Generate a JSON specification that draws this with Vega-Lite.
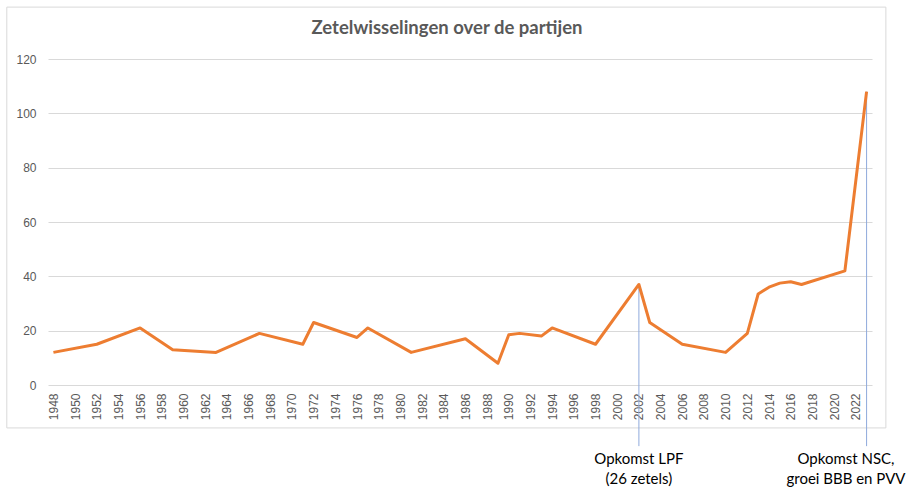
{
  "$schema": "https://vega.github.io/schema/vega-lite/v6.json",
  "width": 824,
  "height": 326,
  "autosize": "none",
  "padding": {"left": 48, "top": 59, "right": 37, "bottom": 103},
  "background": "white",
  "config": {
    "view": {"stroke": null},
    "font": "Lato",
    "axis": {
      "title": null,
      "ticks": false,
      "domain": false,
      "labelFontSize": 12,
      "labelColor": "#595959",
      "labelFont": "Liberation Sans",
      "labelOverlap": false
    },
    "axisX": {
      "labelAngle": -90,
      "labelPadding": 8,
      "grid": false,
      "labelOverlap": false,
      "labelFlush": false,
      "labelBound": false
    },
    "axisY": {
      "labelPadding": 12,
      "grid": true,
      "gridColor": "#d9d9d9",
      "gridWidth": 1
    }
  },
  "title": {
    "text": "Zetelwisselingen over de partijen",
    "fontSize": 18.5,
    "fontWeight": "bold",
    "font": "Lato",
    "color": "#595959",
    "anchor": "middle",
    "frame": "group",
    "dx": -13,
    "offset": -31
  },
  "datasets": {
    "seats": [
      {"year": 1948, "value": 12},
      {"year": 1952, "value": 15},
      {"year": 1956, "value": 21},
      {"year": 1959, "value": 13},
      {"year": 1963, "value": 12},
      {"year": 1967, "value": 19},
      {"year": 1971, "value": 15},
      {"year": 1972, "value": 23},
      {"year": 1976, "value": 17.5},
      {"year": 1977, "value": 21},
      {"year": 1981, "value": 12},
      {"year": 1986, "value": 17},
      {"year": 1989, "value": 8},
      {"year": 1990, "value": 18.5},
      {"year": 1991, "value": 19},
      {"year": 1993, "value": 18},
      {"year": 1994, "value": 21},
      {"year": 1998, "value": 15},
      {"year": 2002, "value": 37},
      {"year": 2003, "value": 23},
      {"year": 2006, "value": 15},
      {"year": 2010, "value": 12},
      {"year": 2012, "value": 19},
      {"year": 2013, "value": 33.5},
      {"year": 2014, "value": 36},
      {"year": 2015, "value": 37.5},
      {"year": 2016, "value": 38},
      {"year": 2017, "value": 37},
      {"year": 2021, "value": 42},
      {"year": 2023, "value": 108}
    ],
    "marks": [
      {"year": 2002, "top": 37, "bottom": -22.5, "labelYear": 2002, "label": ["Opkomst LPF", "(26 zetels)"]},
      {"year": 2023, "top": 108, "bottom": -22.5, "labelYear": 2021.1, "label": ["Opkomst NSC,", "groei BBB en PVV"]}
    ],
    "frame": [
      {"x1": 1943.7, "x2": 2024.78, "y1": 139.1, "y2": -15.8}
    ]
  },
  "layer": [
    {
      "data": {"name": "frame"},
      "mark": {"type": "rect", "fill": "transparent", "stroke": "#d9d9d9", "strokeWidth": 1},
      "encoding": {
        "x": {"field": "x1", "type": "quantitative"},
        "x2": {"field": "x2"},
        "y": {"field": "y1", "type": "quantitative"},
        "y2": {"field": "y2"}
      }
    },
    {
      "data": {"name": "marks"},
      "mark": {"type": "rule", "color": "#8faadc", "strokeWidth": 1},
      "encoding": {
        "x": {"field": "year", "type": "quantitative"},
        "y": {"field": "top", "type": "quantitative"},
        "y2": {"field": "bottom"}
      }
    },
    {
      "data": {"name": "seats"},
      "mark": {"type": "line", "color": "#ED7D31", "strokeWidth": 3, "strokeJoin": "round"},
      "encoding": {
        "x": {
          "field": "year",
          "type": "quantitative",
          "scale": {"domain": [1947.5, 2023.5], "nice": false, "zero": false},
          "axis": {
            "values": [1948,1950,1952,1954,1956,1958,1960,1962,1964,1966,1968,1970,1972,1974,1976,1978,1980,1982,1984,1986,1988,1990,1992,1994,1996,1998,2000,2002,2004,2006,2008,2010,2012,2014,2016,2018,2020,2022],
            "tickCount": 100,
            "format": "d",
            "labelOverlap": false,
            "labelAngle": -90
          }
        },
        "y": {
          "field": "value",
          "type": "quantitative",
          "scale": {"domain": [0, 120], "nice": false},
          "axis": {"values": [0, 20, 40, 60, 80, 100, 120], "labelOverlap": false}
        }
      }
    },
    {
      "data": {"name": "marks"},
      "mark": {"type": "text", "fontSize": 15, "font": "Lato", "color": "#000000", "align": "center", "baseline": "middle", "lineHeight": 20},
      "encoding": {
        "x": {"field": "labelYear", "type": "quantitative"},
        "y": {"datum": -27.2, "type": "quantitative"},
        "text": {"field": "label"}
      }
    }
  ]
}
